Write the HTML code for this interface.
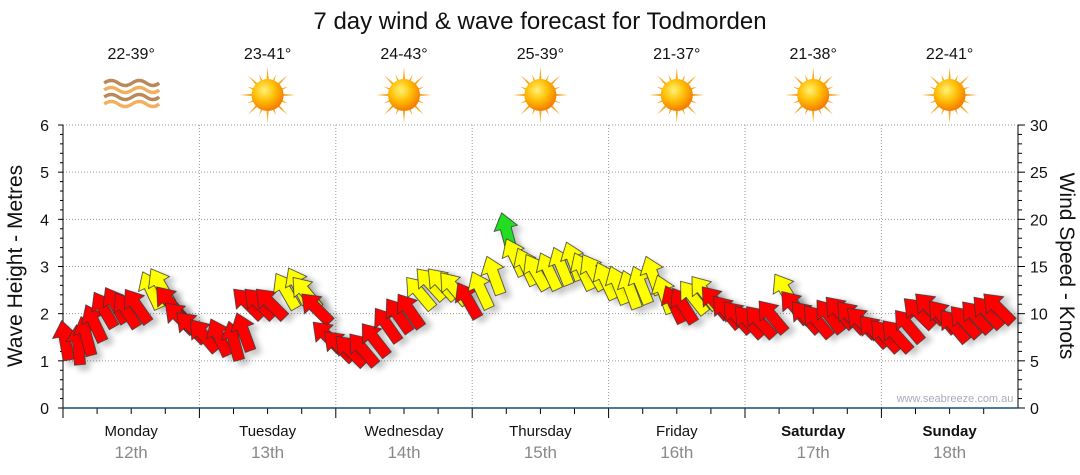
<!DOCTYPE html>
<html><head><meta charset="utf-8"><style>
body{margin:0;background:#fff;font-family:"Liberation Sans","DejaVu Sans",sans-serif}
svg{display:block}
</style></head><body>
<svg id="c" width="1080" height="475" viewBox="0 0 1080 475" xmlns="http://www.w3.org/2000/svg">
<defs>
<filter id="sh" x="-50%" y="-50%" width="200%" height="200%"><feGaussianBlur in="SourceAlpha" stdDeviation="3"/><feOffset dx="4" dy="6"/><feComponentTransfer><feFuncA type="linear" slope="0.22"/></feComponentTransfer><feMerge><feMergeNode/><feMergeNode in="SourceGraphic"/></feMerge></filter>
<radialGradient id="sun" cx="40%" cy="35%" r="65%"><stop offset="0" stop-color="#fff176"/><stop offset="0.5" stop-color="#ffc107"/><stop offset="1" stop-color="#f57c00"/></radialGradient>
</defs>
<text x="540" y="29" text-anchor="middle" font-size="24" fill="#111">7 day wind &amp; wave forecast for Todmorden</text>
<g id="topg"></g>
<g id="grid"></g>
<g id="axes"></g>
<g id="arrows"></g>
<text x="955" y="402" text-anchor="middle" font-size="11" fill="#aab">www.seabreeze.com.au</text>
<text transform="translate(22,266) rotate(-90)" text-anchor="middle" font-size="21" fill="#111">Wave Height - Metres</text>
<text transform="translate(1060,266) rotate(90)" text-anchor="middle" font-size="21" fill="#111">Wind Speed - Knots</text>
</svg>
<script>
const days=["Monday","Tuesday","Wednesday","Thursday","Friday","Saturday","Sunday"];
const dates=["12th","13th","14th","15th","16th","17th","18th"];
const temps=["22-39°","23-41°","24-43°","25-39°","21-37°","21-38°","22-41°"];
const icons=["wind","sun","sun","sun","sun","sun","sun"];
const waveTicks=[0,1,2,3,4,5,6];
const knotTicks=[0,5,10,15,20,25,30];
const windSpeed=[
7,6.5,7.5,9,10.5,11,10.5,11,12.5,13,11.5,10,
9,8,7.5,7,8,11.5,11.5,11.5,12.5,13,12.5,11,
8,7,6.5,6.5,7.5,9,10,10.5,12.5,13.5,13.5,13,
11.5,12.5,14,18.5,16,15,14.5,14.5,15,15.5,14.5,14.5,
13.5,13,12.5,13,14,12,11,11,12,12.5,11.5,10.5,
10,9.5,9.5,10,12.5,11,10,9.5,10,10.5,10,9.5,
8.5,8,8,9,10.5,11,10,9,9.5,10,10.5,11];
const windDir=[
350,355,345,335,330,330,328,325,335,330,320,315,
315,320,335,345,340,315,315,315,330,332,320,315,
315,315,315,320,322,325,325,325,320,318,318,320,
330,335,340,345,335,335,330,335,338,340,335,330,
335,338,340,338,340,340,335,328,322,322,320,320,
318,318,318,320,328,320,318,320,322,318,318,315,
318,318,318,320,315,315,320,320,318,318,318,315];
const perDay=12;
const X0=63,X1=1018,DW=136.4,Y0=408,Y6=125;
const ns="http://www.w3.org/2000/svg";
function xDay(d){return X0+d*DW;}
function xIdx(i){return X0+(i+0.5)*DW/perDay;}
function yM(m){return Y0-(Y0-Y6)*m/6;}
function yK(k){return yM(k/5);}
function mk(t,a,p){const e=document.createElementNS(ns,t);for(const k in a)e.setAttribute(k,a[k]);(p||document.getElementById('c')).appendChild(e);return e;}
const topG=document.getElementById('topg'),grid=document.getElementById('grid'),axes=document.getElementById('axes'),arr=document.getElementById('arrows');
days.forEach((d,i)=>{
 const cx=xDay(i)+DW/2;
 const t=mk('text',{x:cx,y:59,'text-anchor':'middle','font-size':16,fill:'#111'},topG);t.textContent=temps[i];
 
 
 const g=mk('g',{transform:`translate(${cx},95)`},topG);
 
 
 if(icons[i]==='sun'){
  for(let r=0;r<16;r++){const a=r*Math.PI/8,L=r%2?22:28;mk('polygon',{points:`${Math.cos(a-0.12)*12},${Math.sin(a-0.12)*12} ${Math.cos(a)*L},${Math.sin(a)*L} ${Math.cos(a+0.12)*12},${Math.sin(a+0.12)*12}`,fill:'#f9a825'},g);}
  mk('circle',{r:16,fill:'url(#sun)'},g);
 }else{
  for(let r=0;r<4;r++){mk('path',{d:`M-27,${-12+r*7} q7,-5 14,0 t14,0 t14,0 t13,0`,fill:'none',stroke:r%2?'#f0b060':'#b88a5a','stroke-width':3.5},g);}
 }
 const dl=mk('text',{x:cx,y:436,'text-anchor':'middle','font-size':15,fill:'#111','font-weight':i>=5?'bold':'normal'});dl.textContent=d;
 
 
 const dt=mk('text',{x:cx,y:458,'text-anchor':'middle','font-size':17,fill:'#888'});dt.textContent=dates[i];
 
 
 if(i>0){const v=mk('line',{x1:xDay(i),x2:xDay(i),y1:Y6,y2:Y0,stroke:'#999','stroke-dasharray':'1,2'},grid);
 
 }
 for(let q=0;q<4;q++){const tx=xDay(i)+q*DW/4;mk('line',{x1:tx,x2:tx,y1:Y0,y2:Y0+(q?6:10),stroke:'#000'},axes);}
});
waveTicks.forEach(m=>{
 const y=yM(m);
 if(m>0){const h=mk('line',{x1:X0,x2:X1,y1:y,y2:y,stroke:'#999','stroke-dasharray':'1,2'},grid);
 
 }
 mk('line',{x1:X0-5,x2:X0,y1:y,y2:y,stroke:'#000'},axes);
 const t=mk('text',{x:X0-14,y:y+6,'text-anchor':'end','font-size':16,fill:'#111'},axes);t.textContent=m;
 
 
 if(m<6)for(let s=1;s<5;s++){const yy=yM(m+s/5);mk('line',{x1:X0-3,x2:X0,y1:yy,y2:yy,stroke:'#000'},axes);}
});
knotTicks.forEach(k=>{
 const y=yK(k);
 mk('line',{x1:X1,x2:X1+7,y1:y,y2:y,stroke:'#000'},axes);
 const t=mk('text',{x:X1+12,y:y+6,'font-size':16,fill:'#111'},axes);t.textContent=k;
 
 
 if(k<30)for(let s=1;s<5;s++){const yy=yK(k+s);mk('line',{x1:X1,x2:X1+4,y1:yy,y2:yy,stroke:'#000'},axes);}
});
mk('line',{x1:X0,x2:X0,y1:Y6,y2:Y0,stroke:'#000'},axes);
mk('line',{x1:X1,x2:X1,y1:Y6,y2:Y0,stroke:'#000'},axes);
mk('line',{x1:X0,x2:X1,y1:Y0,y2:Y0,stroke:'#1a4a7a','stroke-width':1.5},axes);
const shape="M0,0 L-5.5,0 L-5.5,-24 L-12,-24 L0,-40 L12,-24 L5.5,-24 L5.5,0 Z";
windSpeed.forEach((k,i)=>{
 const x=xIdx(i),y=yK(k)+18;
 const col=k>=17?'#22dd22':(k>=12?'#ffff00':'#ff0000');
 const p=mk('path',{d:shape,fill:col,stroke:'#333','stroke-width':0.8,filter:'url(#sh)',transform:`translate(${x},${y}) rotate(${windDir[i]})`},arr);
 
 
});
</script>
</body></html>
